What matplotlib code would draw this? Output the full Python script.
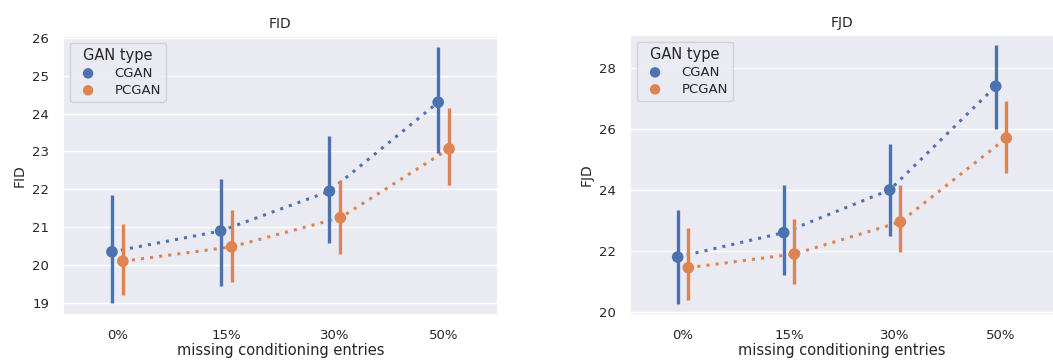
import numpy as np
import matplotlib
matplotlib.use("Agg")
import matplotlib.pyplot as plt
import seaborn as sns

sns.set_theme(style="darkgrid")

# data
cats = ["0%", "15%", "30%", "50%"]
gans = ["CGAN", "PCGAN"]

fid_mean = {"CGAN": [20.35, 20.9, 21.95, 24.3],
            "PCGAN": [20.1, 20.48, 21.25, 23.07]}
fid_lo = {"CGAN": [19.0, 19.45, 20.57, 22.95],
          "PCGAN": [19.2, 19.55, 20.3, 22.12]}
fid_hi = {"CGAN": [21.85, 22.28, 23.4, 25.75],
          "PCGAN": [21.08, 21.45, 22.25, 24.15]}

fjd_mean = {"CGAN": [21.8, 22.6, 24.0, 27.4],
            "PCGAN": [21.45, 21.9, 22.95, 25.7]}
fjd_lo = {"CGAN": [20.25, 21.2, 22.5, 26.0],
          "PCGAN": [20.4, 20.9, 21.95, 24.55]}
fjd_hi = {"CGAN": [23.35, 24.15, 25.5, 28.75],
          "PCGAN": [22.75, 23.05, 24.15, 26.9]}

colors = sns.color_palette("deep")[:2]
offsets = [-0.05, 0.05]

fig = plt.figure(figsize=(10.53, 3.64), dpi=100)
ax1 = fig.add_axes([63 / 1053, 1 - 315 / 364, 435 / 1053, 279 / 364])
ax2 = fig.add_axes([630 / 1053, 1 - 315 / 364, 424 / 1053, 280 / 364])


def draw(ax, mean, lo, hi, name, ylim):
    x = np.arange(len(cats))
    for g, c, off in zip(gans, colors, offsets):
        xs = x + off
        ax.plot(xs, mean[g], linestyle=(0, (1, 2)), lw=2.2, color=c, zorder=2)
        ax.vlines(xs, lo[g], hi[g], color=c, lw=2.4, zorder=3)
        ax.scatter(xs, mean[g], s=70, color=c, zorder=4, label=g,
                   edgecolor="none")
    ax.set_xticks(x)
    ax.set_xticklabels(cats)
    ax.set_xlim(-0.5, 3.5)
    ax.set_ylim(*ylim)
    ax.grid(axis="x", visible=False)
    ax.set_title(name, fontsize=10)
    ax.set_ylabel(name, fontsize=10)
    ax.set_xlabel("missing conditioning entries", fontsize=10.5)
    ax.tick_params(labelsize=9.5, pad=4)
    ax.xaxis.labelpad = 1
    leg = ax.legend(title="GAN type", loc="upper left", fontsize=9.5,
                    title_fontsize=10.5, handletextpad=1.0,
                    borderpad=0.4, labelspacing=0.3, markerscale=0.9)
    leg.get_frame().set_edgecolor("0.8")


draw(ax1, fid_mean, fid_lo, fid_hi, "FID", (18.68, 26.05))
draw(ax2, fjd_mean, fjd_lo, fjd_hi, "FJD", (19.9, 29.08))
ax2.set_yticks([20, 22, 24, 26, 28])

fig.savefig("out.png", dpi=100)
